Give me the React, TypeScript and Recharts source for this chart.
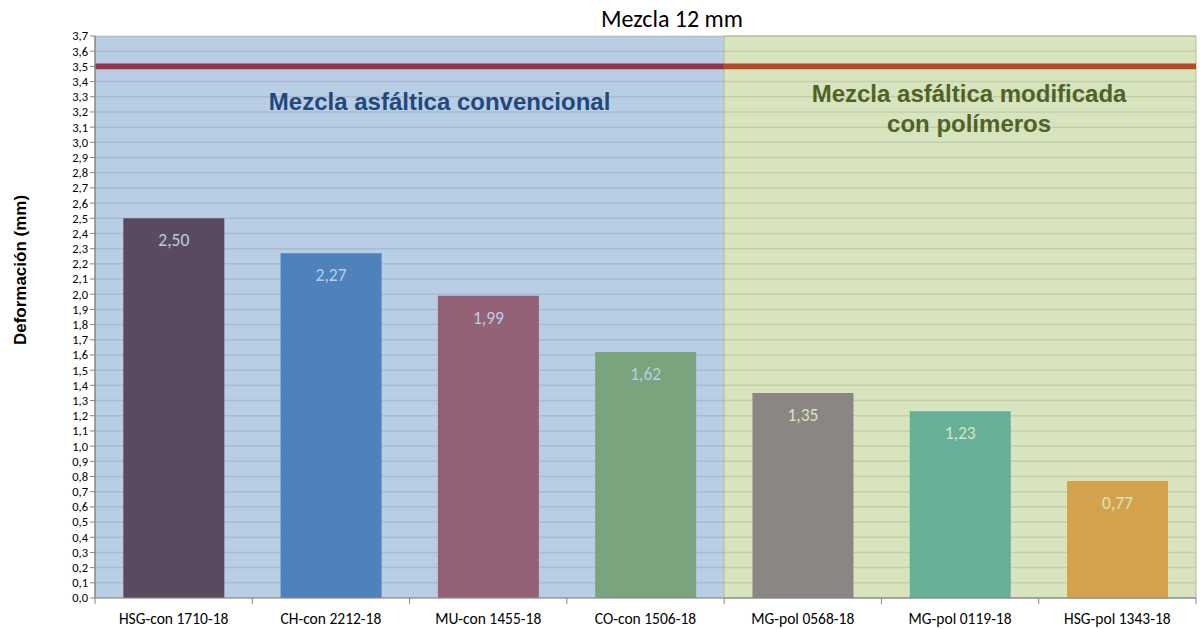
import React from 'react';
import {
  BarChart, Bar, XAxis, YAxis, CartesianGrid, ReferenceArea, Cell, LabelList,
} from 'recharts';

const categories = [
  'HSG-con 1710-18', 'CH-con 2212-18', 'MU-con 1455-18', 'CO-con 1506-18',
  'MG-pol 0568-18', 'MG-pol 0119-18', 'HSG-pol 1343-18',
];
const deformation = [2.5, 2.27, 1.99, 1.62, 1.35, 1.23, 0.77];
const barColors = ['#5B4A5F', '#4F81BD', '#946276', '#7BA37D', '#8B8584', '#66B09A', '#D4A24C'];
const labelColors = ['#B9CDE5', '#B9CDE5', '#B9CDE5', '#B9CDE5', '#D7E4BD', '#D7E4BD', '#D7E4BD'];
const yTicks = [
  0, 0.1, 0.2, 0.3, 0.4, 0.5, 0.6, 0.7, 0.8, 0.9, 1.0, 1.1, 1.2, 1.3, 1.4, 1.5, 1.6, 1.7, 1.8, 1.9,
  2.0, 2.1, 2.2, 2.3, 2.4, 2.5, 2.6, 2.7, 2.8, 2.9, 3.0, 3.1, 3.2, 3.3, 3.4, 3.5, 3.6, 3.7,
];
const limitValue = 3.5;
const yMax = 3.7;
const groupConv = { from: categories[0], to: categories[3], label: ['Mezcla asfáltica convencional'] };
const groupPol = { from: categories[4], to: categories[6], label: ['Mezcla asfáltica modificada', 'con polímeros'] };

const data = categories.map((c, i) => ({ name: c, value: deformation[i] }));

const fmt = (v: number, d: number) => v.toFixed(d).replace('.', ',');

const XTick = (props: any) => {
  const { x, y, payload, index } = props;
  const off = payload.offset || 0;
  return (
    <g>
      <line x1={x - off} x2={x - off} y1={y - 8} y2={y - 2} stroke="#868686" />
      {index === categories.length - 1 && (
        <line x1={x + off} x2={x + off} y1={y - 8} y2={y - 2} stroke="#868686" />
      )}
      <text x={x} y={y + 18} textAnchor="middle" fontSize={15.5} fontFamily="Carlito, Lato, sans-serif" fill="#000">
        {payload.value}
      </text>
    </g>
  );
};

const BarLabel = (props: any) => {
  const { x, y, width, value, index } = props;
  return (
    <text x={x + width / 2} y={y + 28} textAnchor="middle" fontSize={17.5}
      fontFamily="Carlito, Lato, sans-serif" fill={labelColors[index]}>
      {fmt(Number(value), 2)}
    </text>
  );
};

const GroupLabel = (lines: string[], color: string, dx: number, y0: number) => (props: any) => {
  const vb = props.viewBox || {};
  const cx = vb.x + vb.width / 2 + dx;
  return (
    <text textAnchor="middle" fontSize={24} fontWeight="bold" fontFamily="Liberation Sans, Arial, sans-serif" fill={color}>
      {lines.map((l, i) => (
        <tspan key={i} x={cx} y={y0 + i * 30}>{l}</tspan>
      ))}
    </text>
  );
};

export default function App() {
  return (
    <div style={{ position: 'absolute', left: 0, top: 0, width: 1202, height: 629, background: '#fff' }}>
      <BarChart width={1202} height={629} data={data}
        margin={{ top: 36, right: 6, left: 35, bottom: 1 }} barCategoryGap="18%">
        <ReferenceArea x1={groupConv.from} x2={groupConv.to} y1={0} y2={yMax} fill="#B9CDE5" fillOpacity={1}
          stroke="none" zIndex={-200} ifOverflow="visible"
          label={GroupLabel(groupConv.label, '#1F497D', 30, 110)} />
        <ReferenceArea x1={groupPol.from} x2={groupPol.to} y1={0} y2={yMax} fill="#D7E4BD" fillOpacity={1}
          stroke="#B4C08F" zIndex={-200} ifOverflow="visible"
          label={GroupLabel(groupPol.label, '#4F6228', 9, 102)} />
        <CartesianGrid vertical={false} stroke="rgba(60,70,60,0.13)" strokeWidth={1.5} zIndex={-150} />
        <ReferenceArea x1={groupConv.from} x2={groupConv.to} y1={limitValue - 0.019} y2={limitValue + 0.019}
          fill="#993347" fillOpacity={1} stroke="none" zIndex={-100} />
        <ReferenceArea x1={groupPol.from} x2={groupPol.to} y1={limitValue - 0.019} y2={limitValue + 0.019}
          fill="#B54A26" fillOpacity={1} stroke="none" zIndex={-100} />
        <XAxis dataKey="name" height={30} axisLine={{ stroke: '#868686' }} tickLine={false}
          interval={0} tick={<XTick />} />
        <YAxis width={60} domain={[0, yMax]} ticks={yTicks} interval={0} allowDataOverflow
          tickFormatter={(v: number) => fmt(v, 1)} tickSize={5}
          axisLine={{ stroke: '#868686', strokeWidth: 1.5 }} tickLine={{ stroke: '#868686' }}
          tick={{ fontSize: 12.5, fill: '#000', fontFamily: 'Carlito, Lato, sans-serif' }}
          label={(p: any) => (
            <text x={20} y={270} transform="rotate(-90 20 270)" textAnchor="middle" dominantBaseline="central"
              fontSize={17} fontWeight="bold" fontFamily="Liberation Sans, Arial, sans-serif" fill="#000">
              Deformación (mm)
            </text>
          )} />
        <Bar dataKey="value" isAnimationActive={false}>
          {data.map((d, i) => <Cell key={i} fill={barColors[i]} />)}
          <LabelList dataKey="value" content={<BarLabel />} />
        </Bar>
      </BarChart>
      <div style={{ position: 'absolute', left: 0, width: 1202, top: 4, textAlign: 'center', paddingLeft: 142,
        boxSizing: 'border-box', fontFamily: 'Carlito, Lato, sans-serif', fontSize: 24, color: '#000' }}>
        Mezcla 12 mm
      </div>
    </div>
  );
}
